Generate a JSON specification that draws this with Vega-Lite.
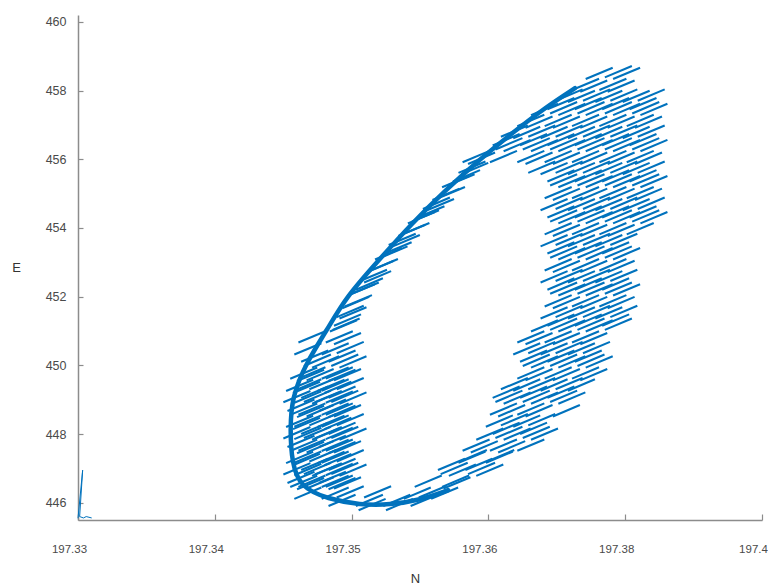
{
  "$schema": "https://vega.github.io/schema/vega-lite/v6.json",
  "width": 684,
  "height": 505,
  "autosize": {"type": "none"},
  "padding": {"left": 78, "top": 15, "right": 6, "bottom": 64},
  "background": "white",
  "config": {
    "view": {"stroke": null},
    "axis": {
      "grid": false,
      "domainColor": "#8c8c8c",
      "domainWidth": 1.5,
      "tickColor": "#8c8c8c",
      "tickWidth": 1.2,
      "labelColor": "#4a4a4a",
      "titleColor": "#333333",
      "labelFont": "Liberation Sans",
      "titleFont": "Liberation Sans",
      "titleFontWeight": "normal",
      "titleFontSize": 13,
      "labelFlush": false,
      "labelOverlap": false,
      "labelBound": false
    }
  },
  "datasets": {
    "strokes": [
      {"E": 458.55, "N": [197.3695]},
      {"E": 458.50, "N": [197.3681, 197.3701]},
      {"E": 458.18, "N": [197.3671, 197.3691]},
      {"E": 458.13, "N": [197.3677, 197.3697]},
      {"E": 457.83, "N": [197.3668, 197.3688, 197.3708]},
      {"E": 457.87, "N": [197.3659, 197.3679, 197.3699, 197.3719]},
      {"E": 457.62, "N": [197.3653, 197.3673, 197.3693, 197.3713]},
      {"E": 457.50, "N": [197.3655, 197.3675, 197.3695, 197.3715]},
      {"E": 457.45, "N": [197.3641, 197.3661, 197.3681, 197.3701, 197.3721]},
      {"E": 457.13, "N": [197.3631, 197.3651, 197.3671, 197.3691, 197.3711]},
      {"E": 457.08, "N": [197.3637, 197.3657, 197.3677, 197.3697, 197.3717]},
      {"E": 456.78, "N": [197.3628, 197.3648, 197.3668, 197.3688, 197.3708]},
      {"E": 456.82, "N": [197.3619, 197.3639, 197.3659, 197.3679, 197.3699, 197.3719]},
      {"E": 456.57, "N": [197.3613, 197.3633, 197.3653, 197.3673, 197.3693, 197.3713]},
      {"E": 456.45, "N": [197.3615, 197.3635, 197.3655, 197.3675, 197.3695, 197.3715]},
      {"E": 456.40, "N": [197.3621, 197.3641, 197.3661, 197.3681, 197.3701, 197.3721]},
      {"E": 456.08, "N": [197.3591, 197.3611, 197.3631, 197.3651, 197.3671, 197.3691, 197.3711]},
      {"E": 456.03, "N": [197.3595, 197.3637, 197.3657, 197.3677, 197.3697, 197.3717]},
      {"E": 455.73, "N": [197.3590, 197.3648, 197.3668, 197.3688, 197.3708]},
      {"E": 455.77, "N": [197.3588, 197.3639, 197.3659, 197.3679, 197.3699, 197.3719]},
      {"E": 455.52, "N": [197.3584, 197.3653, 197.3673, 197.3693, 197.3713]},
      {"E": 455.40, "N": [197.3580, 197.3655, 197.3675, 197.3695, 197.3715]},
      {"E": 455.35, "N": [197.3576, 197.3661, 197.3681, 197.3701, 197.3721]},
      {"E": 455.03, "N": [197.3573, 197.3651, 197.3671, 197.3691, 197.3711]},
      {"E": 454.98, "N": [197.3569, 197.3657, 197.3677, 197.3697, 197.3717]},
      {"E": 454.68, "N": [197.3565, 197.3648, 197.3668, 197.3688, 197.3708]},
      {"E": 454.72, "N": [197.3562, 197.3659, 197.3679, 197.3699, 197.3719]},
      {"E": 454.47, "N": [197.3558, 197.3653, 197.3673, 197.3693, 197.3713]},
      {"E": 454.35, "N": [197.3554, 197.3655, 197.3675, 197.3695, 197.3715]},
      {"E": 454.30, "N": [197.3551, 197.3661, 197.3681, 197.3701, 197.3721]},
      {"E": 453.98, "N": [197.3547, 197.3651, 197.3671, 197.3691, 197.3711]},
      {"E": 453.93, "N": [197.3544, 197.3657, 197.3677, 197.3697]},
      {"E": 453.63, "N": [197.3540, 197.3648, 197.3668, 197.3688]},
      {"E": 453.67, "N": [197.3537, 197.3659, 197.3679, 197.3699]},
      {"E": 453.42, "N": [197.3534, 197.3653, 197.3673, 197.3693]},
      {"E": 453.30, "N": [197.3531, 197.3655, 197.3675, 197.3695]},
      {"E": 453.25, "N": [197.3527, 197.3661, 197.3681, 197.3701]},
      {"E": 452.93, "N": [197.3524, 197.3651, 197.3671, 197.3691]},
      {"E": 452.88, "N": [197.3521, 197.3657, 197.3677, 197.3697]},
      {"E": 452.58, "N": [197.3519, 197.3648, 197.3668, 197.3688]},
      {"E": 452.62, "N": [197.3516, 197.3659, 197.3679, 197.3699]},
      {"E": 452.37, "N": [197.3513, 197.3653, 197.3673, 197.3693]},
      {"E": 452.25, "N": [197.3510, 197.3655, 197.3675, 197.3695]},
      {"E": 452.20, "N": [197.3507, 197.3661, 197.3681, 197.3701]},
      {"E": 451.88, "N": [197.3505, 197.3651, 197.3671, 197.3691]},
      {"E": 451.83, "N": [197.3503, 197.3657, 197.3677, 197.3697]},
      {"E": 451.53, "N": [197.3501, 197.3648, 197.3668, 197.3688]},
      {"E": 451.57, "N": [197.3499, 197.3659, 197.3679, 197.3699]},
      {"E": 451.32, "N": [197.3497, 197.3653, 197.3673, 197.3693]},
      {"E": 451.20, "N": [197.3496, 197.3655, 197.3675, 197.3695]},
      {"E": 451.15, "N": [197.3494, 197.3641, 197.3661, 197.3681]},
      {"E": 450.83, "N": [197.3471, 197.3491, 197.3631, 197.3651, 197.3671]},
      {"E": 450.78, "N": [197.3497, 197.3637, 197.3657, 197.3677]},
      {"E": 450.48, "N": [197.3468, 197.3488, 197.3628, 197.3648, 197.3668]},
      {"E": 450.52, "N": [197.3499, 197.3639, 197.3659, 197.3679]},
      {"E": 450.27, "N": [197.3473, 197.3493, 197.3633, 197.3653, 197.3673]},
      {"E": 450.15, "N": [197.3475, 197.3495, 197.3635, 197.3655, 197.3675]},
      {"E": 450.10, "N": [197.3481, 197.3501, 197.3641, 197.3661, 197.3681]},
      {"E": 449.78, "N": [197.3471, 197.3491, 197.3631, 197.3651, 197.3671]},
      {"E": 449.73, "N": [197.3477, 197.3497, 197.3637, 197.3657, 197.3677]},
      {"E": 449.43, "N": [197.3468, 197.3488, 197.3628, 197.3648, 197.3668]},
      {"E": 449.47, "N": [197.3479, 197.3499, 197.3619, 197.3639, 197.3659]},
      {"E": 449.22, "N": [197.3473, 197.3493, 197.3613, 197.3633, 197.3653]},
      {"E": 449.10, "N": [197.3475, 197.3495, 197.3615, 197.3635, 197.3655]},
      {"E": 449.05, "N": [197.3481, 197.3501, 197.3621, 197.3641, 197.3661]},
      {"E": 448.73, "N": [197.3471, 197.3491, 197.3611, 197.3631]},
      {"E": 448.68, "N": [197.3477, 197.3497, 197.3617, 197.3637, 197.3657]},
      {"E": 448.38, "N": [197.3468, 197.3488, 197.3608, 197.3628]},
      {"E": 448.42, "N": [197.3479, 197.3499, 197.3619, 197.3639]},
      {"E": 448.17, "N": [197.3473, 197.3493, 197.3613, 197.3633]},
      {"E": 448.05, "N": [197.3475, 197.3495, 197.3615, 197.3635]},
      {"E": 448.00, "N": [197.3481, 197.3501, 197.3601, 197.3621, 197.3641]},
      {"E": 447.68, "N": [197.3471, 197.3491, 197.3591, 197.3611, 197.3631]},
      {"E": 447.63, "N": [197.3477, 197.3497, 197.3597, 197.3617]},
      {"E": 447.33, "N": [197.3468, 197.3488, 197.3588, 197.3608]},
      {"E": 447.37, "N": [197.3479, 197.3499, 197.3589, 197.3609]},
      {"E": 447.12, "N": [197.3473, 197.3493, 197.3573, 197.3593]},
      {"E": 447.00, "N": [197.3475, 197.3495, 197.3575, 197.3595]},
      {"E": 446.95, "N": [197.3481, 197.3501, 197.3581, 197.3601]},
      {"E": 446.63, "N": [197.3471, 197.3491, 197.3556, 197.3576]},
      {"E": 446.58, "N": [197.3477, 197.3497, 197.3577]},
      {"E": 446.28, "N": [197.3468, 197.3488, 197.3548, 197.3568]},
      {"E": 446.32, "N": [197.3499, 197.3519, 197.3559]},
      {"E": 446.07, "N": [197.3493, 197.3513, 197.3533, 197.3553]},
      {"E": 445.95, "N": [197.3515, 197.3535]},
      {"E": 449.775, "N": [197.3465, 197.3488]},
      {"E": 449.71, "N": [197.3470, 197.3493]},
      {"E": 449.42, "N": [197.3462, 197.3485]},
      {"E": 449.36, "N": [197.3467, 197.3490]},
      {"E": 449.09, "N": [197.3460, 197.3483]},
      {"E": 449.08, "N": [197.3468, 197.3491]},
      {"E": 448.84, "N": [197.3463, 197.3486]},
      {"E": 448.725, "N": [197.3465, 197.3488]},
      {"E": 448.66, "N": [197.3470, 197.3493]},
      {"E": 448.37, "N": [197.3462, 197.3485]},
      {"E": 448.31, "N": [197.3467, 197.3490]},
      {"E": 448.04, "N": [197.3460, 197.3483]},
      {"E": 448.02, "N": [197.3468, 197.3491]},
      {"E": 447.79, "N": [197.3463, 197.3486]},
      {"E": 447.675, "N": [197.3465, 197.3488]},
      {"E": 447.61, "N": [197.3470, 197.3493]},
      {"E": 447.32, "N": [197.3462, 197.3485]},
      {"E": 447.26, "N": [197.3467, 197.3490]},
      {"E": 446.99, "N": [197.3460, 197.3483]},
      {"E": 446.97, "N": [197.3468, 197.3491]},
      {"E": 446.74, "N": [197.3463, 197.3486]},
      {"E": 446.625, "N": [197.3465, 197.3488]},
      {"E": 446.56, "N": [197.3470, 197.3493]}
    ],
    "edge": [
      {"i": 1, "N": 197.36633, "E": 458.07},
      {"i": 2, "N": 197.36421, "E": 457.52},
      {"i": 3, "N": 197.36173, "E": 456.76},
      {"i": 4, "N": 197.35931, "E": 455.98},
      {"i": 5, "N": 197.35690, "E": 455.11},
      {"i": 6, "N": 197.35442, "E": 454.14},
      {"i": 7, "N": 197.35200, "E": 453.07},
      {"i": 8, "N": 197.34959, "E": 451.99},
      {"i": 9, "N": 197.34820, "E": 451.03},
      {"i": 10, "N": 197.34667, "E": 450.07},
      {"i": 11, "N": 197.34564, "E": 449.08},
      {"i": 12, "N": 197.34550, "E": 448.12},
      {"i": 13, "N": 197.34564, "E": 447.16},
      {"i": 14, "N": 197.34623, "E": 446.46},
      {"i": 15, "N": 197.34827, "E": 446.11},
      {"i": 16, "N": 197.35061, "E": 445.94},
      {"i": 17, "N": 197.35281, "E": 445.94},
      {"i": 18, "N": 197.35500, "E": 446.08},
      {"i": 19, "N": 197.35705, "E": 446.37}
    ],
    "start": [
      {"i": 1, "N": 197.33000, "E": 445.55},
      {"i": 2, "N": 197.33034, "E": 446.95},
      {"i": 3, "N": 197.33012, "E": 445.60},
      {"i": 4, "N": 197.33040, "E": 445.56},
      {"i": 5, "N": 197.33060, "E": 445.60},
      {"i": 6, "N": 197.33100, "E": 445.56}
    ]
  },
  "encoding": {
    "x": {
      "field": "N",
      "type": "quantitative",
      "scale": {"domain": [197.33, 197.38], "nice": false, "zero": false},
      "axis": {
        "values": [197.33, 197.34, 197.35, 197.36, 197.37, 197.38],
        "labelExpr": "datum.value > 197.375 ? '197.4' : datum.value > 197.365 ? '197.38' : format(datum.value, '.2f')",
        "labelFontSize": 11.5,
        "tickSize": -6,
        "labelPadding": 29,
        "labelOffset": -9,
        "title": "N",
        "titleX": 337,
        "titleY": 58,
        "titleBaseline": "middle"
      }
    },
    "y": {
      "field": "E",
      "type": "quantitative",
      "scale": {"domain": [445.5, 460.2], "nice": false, "zero": false},
      "axis": {
        "values": [446, 448, 450, 452, 454, 456, 458, 460],
        "labelFontSize": 12.5,
        "tickSize": -5,
        "labelPadding": 17,
        "title": "E",
        "titleAngle": 0,
        "titleX": -62,
        "titleY": 252,
        "titleAlign": "center",
        "titleBaseline": "middle"
      }
    }
  },
  "layer": [
    {
      "data": {"name": "strokes"},
      "transform": [{"flatten": ["N"]}],
      "mark": {
        "type": "point",
        "shape": "M-1,0.42L1,-0.42",
        "size": 729,
        "filled": false,
        "color": "#0072BD",
        "strokeWidth": 2.1,
        "opacity": 1
      }
    },
    {
      "data": {"name": "edge"},
      "mark": {"type": "line", "color": "#0072BD", "strokeWidth": 4.5, "interpolate": "basis", "strokeCap": "round"},
      "encoding": {"order": {"field": "i", "type": "quantitative"}}
    },
    {
      "data": {"name": "start"},
      "mark": {"type": "line", "color": "#0072BD", "strokeWidth": 1},
      "encoding": {"order": {"field": "i", "type": "quantitative"}}
    }
  ]
}
